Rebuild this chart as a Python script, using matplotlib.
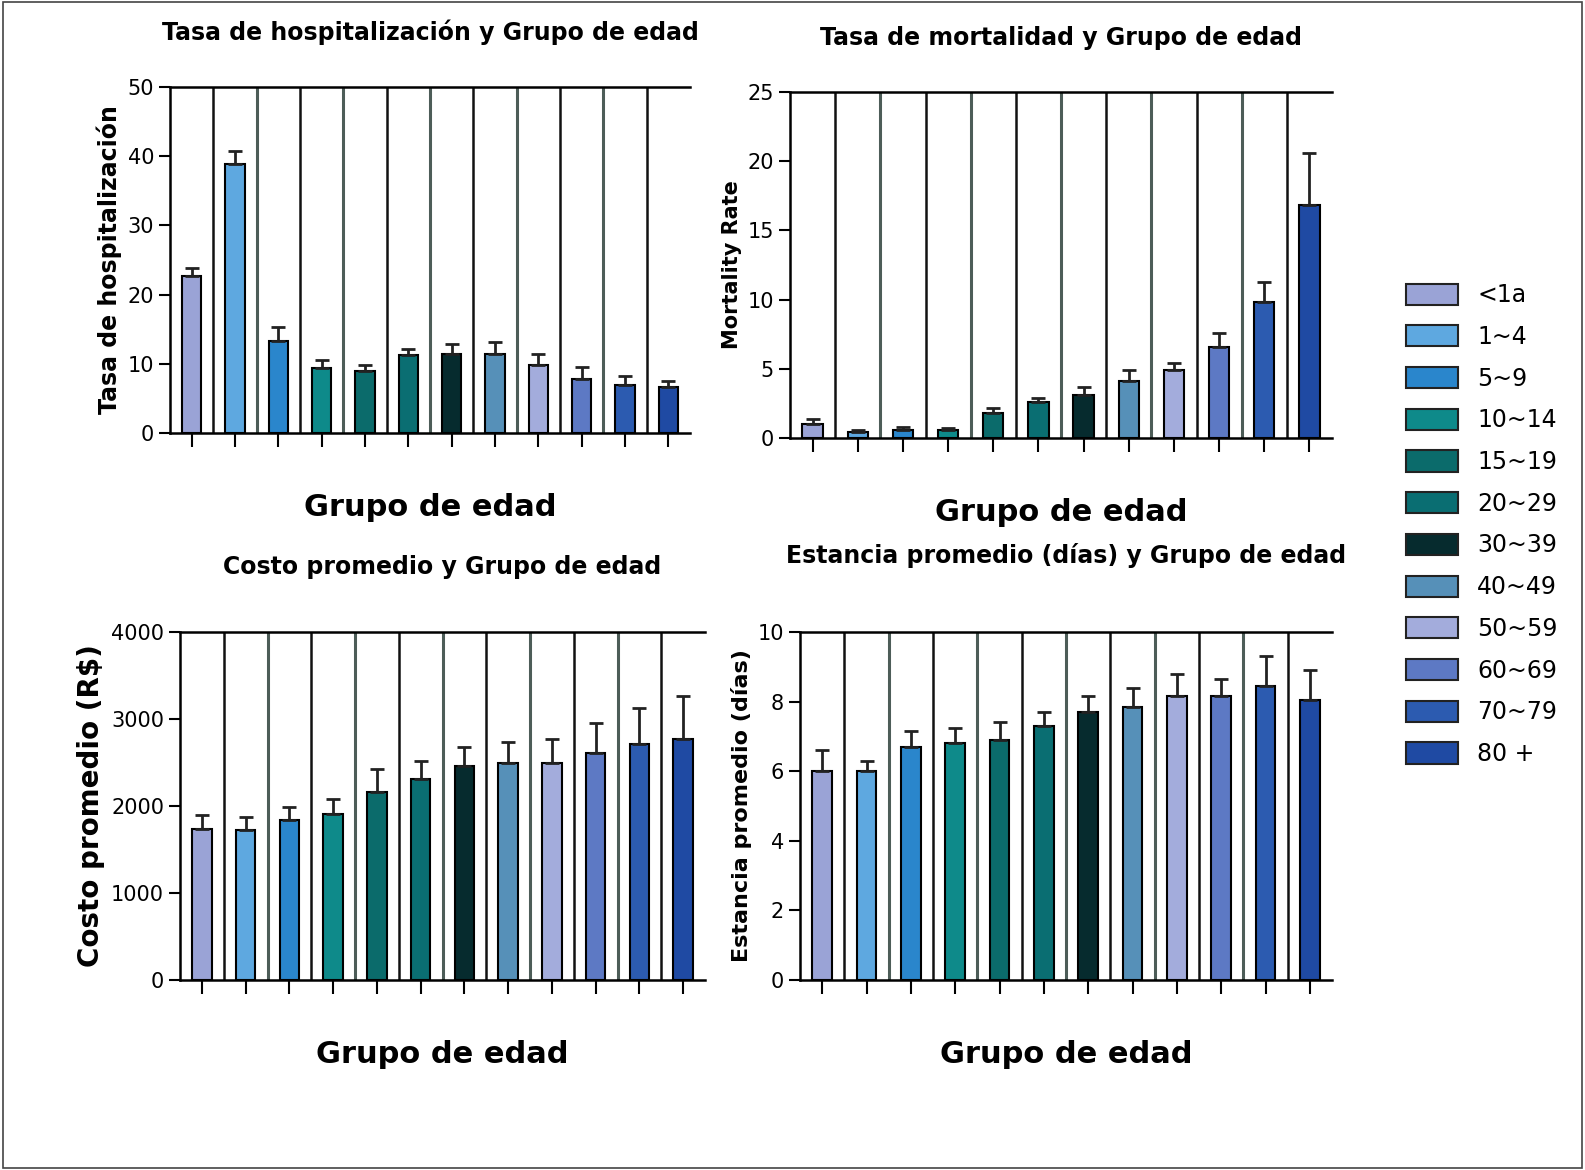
import matplotlib
matplotlib.use("Agg")
import matplotlib.pyplot as plt
from matplotlib.patches import Patch, Rectangle
import numpy as np

groups = ['<1a', '1~4', '5~9', '10~14', '15~19', '20~29', '30~39', '40~49', '50~59', '60~69', '70~79', '80 +']
colors = ['#9aa3d6', '#5ea8e0', '#2a86cc', '#0e8a8a', '#0b6b6b', '#0a6e72', '#062b2e', '#5690b8', '#a3acdc', '#5d79c4', '#2c5bb0', '#1f4aa3']

hosp = [22.7, 38.9, 13.3, 9.4, 9.0, 11.3, 11.4, 11.4, 9.8, 7.8, 7.0, 6.6]
hosp_err = [1.2, 1.8, 2.0, 1.2, 0.8, 0.9, 1.4, 1.8, 1.6, 1.8, 1.2, 0.9]
mort = [1.0, 0.4, 0.6, 0.6, 1.8, 2.6, 3.1, 4.1, 4.9, 6.6, 9.8, 16.8]
mort_err = [0.4, 0.2, 0.2, 0.1, 0.4, 0.3, 0.6, 0.8, 0.5, 1.0, 1.5, 3.8]
cost = [1740, 1720, 1840, 1910, 2160, 2310, 2460, 2490, 2490, 2610, 2710, 2770]
cost_err = [160, 150, 150, 170, 270, 210, 220, 250, 280, 340, 420, 500]
stay = [6.0, 6.0, 6.7, 6.8, 6.9, 7.3, 7.7, 7.85, 8.15, 8.15, 8.45, 8.05]
stay_err = [0.6, 0.3, 0.45, 0.45, 0.5, 0.4, 0.45, 0.55, 0.65, 0.5, 0.85, 0.85]

W, H = 1585, 1170
fig = plt.figure(figsize=(15.85, 11.7), dpi=100)
fig.patches.append(Rectangle((0.002, 0.002), 0.996, 0.996, transform=fig.transFigure,
                             fill=False, edgecolor='#444444', linewidth=1.2))

def ax_at(x1, y1, x2, y2):
    return fig.add_axes([x1 / W, 1 - y2 / H, (x2 - x1) / W, (y2 - y1) / H])

panels = [
    ((170, 87, 690, 433), hosp, hosp_err, 50, 10, 'Tasa de hospitalización y Grupo de edad', 'Tasa de hospitalización', 17, 34),
    ((790, 92, 1332, 438), mort, mort_err, 25, 5, 'Tasa de mortalidad y Grupo de edad', 'Mortality Rate', 15, 34),
    ((180, 632, 705, 980), cost, cost_err, 4000, 1000, 'Costo promedio y Grupo de edad', 'Costo promedio (R$)', 20, 42),
    ((800, 632, 1332, 980), stay, stay_err, 10, 2, 'Estancia promedio (días) y Grupo de edad', 'Estancia promedio (días)', 16, 50),
]

x = np.arange(len(groups))
for (box, vals, err, ymax, step, title, ylab, ylfs, tpad) in panels:
    ax = ax_at(*box)
    for i in range(len(groups) - 1):
        ax.axvline(i + 0.5, color='#111111' if i % 2 == 0 else '#4d5d58',
                   linewidth=2.2 if i % 2 else 1.8, zorder=0)
    ax.bar(x, vals, width=0.45, color=colors, edgecolor='black', linewidth=1.5, zorder=2)
    ax.errorbar(x, vals, yerr=[[0] * len(vals), err], fmt='none', ecolor='#222222',
                elinewidth=2, capsize=5, capthick=2, zorder=3)
    ax.set_xlim(-0.5, len(groups) - 0.5)
    ax.set_ylim(0, ymax)
    ax.set_yticks(np.arange(0, ymax + step / 2, step))
    ax.set_xticks(x)
    ax.set_xticklabels([])
    ax.tick_params(axis='x', length=10, width=1.5)
    ax.tick_params(axis='y', length=8, width=1.5, labelsize=15)
    for s in ['left', 'bottom', 'top']:
        ax.spines[s].set_linewidth(1.8)
    ax.spines['right'].set_visible(False)
    ax.set_title(title, fontsize=17, fontweight='bold', pad=tpad)
    ax.set_ylabel(ylab, fontsize=ylfs, fontweight='bold')
    ax.set_xlabel('Grupo de edad', fontsize=22, fontweight='bold', labelpad=30)

handles = [Patch(facecolor=c, edgecolor='#222222', linewidth=1.5) for c in colors]
fig.legend(handles, groups, loc='upper left', bbox_to_anchor=(1385 / W, 1 - 262 / H),
           frameon=False, fontsize=17, handlelength=2.2, handleheight=1.0, labelspacing=0.75)

fig.savefig('out.png', dpi=100)
